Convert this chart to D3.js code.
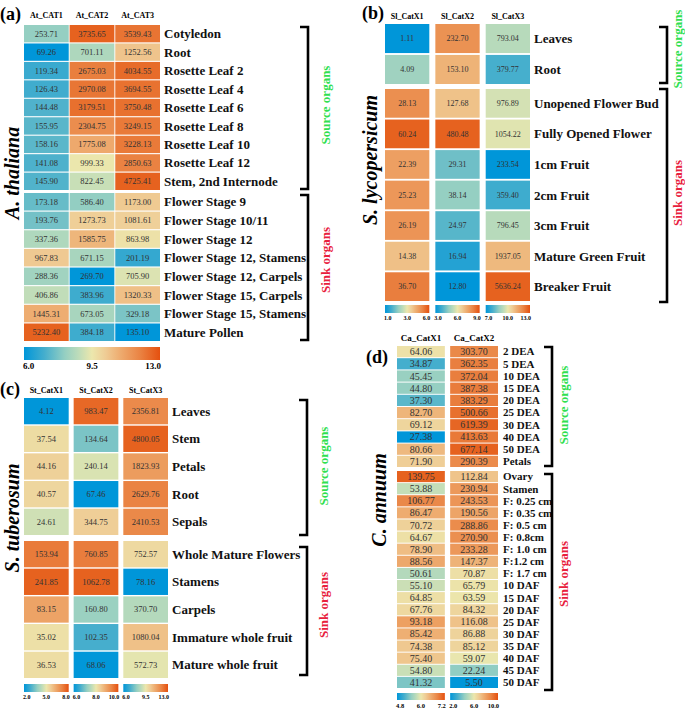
<!DOCTYPE html>
<html><head><meta charset="utf-8">
<script src="https://cdn.jsdelivr.net/npm/d3@7"></script>
<style>body{margin:0;background:#fff}svg{display:block}text{font-family:"Liberation Serif","Times New Roman",serif}</style>
</head><body><svg id="c" width="685" height="708"></svg>
<script>
// ---------- Panel (a) A. thaliana ----------
const A_cols = ["At_CAT1","At_CAT2","At_CAT3"];
const A_source = ["Cotyledon","Root","Rosette Leaf 2","Rosette Leaf 4","Rosette Leaf 6","Rosette Leaf 8","Rosette Leaf 10","Rosette Leaf 12","Stem, 2nd Internode"];
const A_sink = ["Flower Stage 9","Flower Stage 10/11","Flower Stage 12","Flower Stage 12, Stamens","Flower Stage 12, Carpels","Flower Stage 15, Carpels","Flower Stage 15, Stamens","Mature Pollen"];
const A_cat1 = [253.71,69.26,119.34,126.43,144.48,155.95,158.16,141.08,145.90,173.18,193.76,337.36,967.83,288.36,406.86,1445.31,5232.40];
const A_cat2 = [3735.65,701.11,2675.03,2970.08,3179.51,2304.75,1775.08,999.33,822.45,586.40,1273.73,1585.75,671.15,269.70,383.96,673.05,384.18];
const A_cat3 = [3539.43,1252.56,4034.55,3694.55,3750.48,3249.15,3228.13,2850.63,4725.41,1173.00,1081.61,863.98,201.19,705.90,1320.33,329.18,135.10];
const A_ticks = [["6.0","9.5","13.0"]];

// ---------- Panel (b) S. lycopersicum ----------
const B_cols = ["Sl_CatX1","Sl_CatX2","Sl_CatX3"];
const B_source = ["Leaves","Root"];
const B_sink = ["Unopened Flower Bud","Fully Opened Flower","1cm Fruit","2cm Fruit","3cm Fruit","Mature Green Fruit","Breaker Fruit"];
const B_x1 = [1.11,4.09,28.13,60.24,22.39,25.23,26.19,14.38,36.70];
const B_x2 = [232.70,153.10,127.68,480.48,29.31,38.14,24.97,16.94,12.80];
const B_x3 = [793.04,379.77,976.89,1054.22,233.54,359.40,796.45,1937.05,5636.24];
const B_ticks = [["1.0","3.0","6.0"],["3.0","6.0","9.0"],["7.0","10.0","13.0"]];

// ---------- Panel (c) S. tuberosum ----------
const C_cols = ["St_CatX1","St_CatX2","St_CatX3"];
const C_source = ["Leaves","Stem","Petals","Root","Sepals"];
const C_sink = ["Whole Mature Flowers","Stamens","Carpels","Immature whole fruit","Mature whole fruit"];
const C_x1 = [4.12,37.54,44.16,40.57,24.61,153.94,241.85,83.15,35.02,36.53];
const C_x2 = [983.47,134.64,240.14,67.46,344.75,760.85,1062.78,160.80,102.35,68.06];
const C_x3 = [2356.81,4800.05,1823.93,2629.76,2410.53,752.57,78.16,370.70,1080.04,572.73];
const C_ticks = [["2.0","5.0","8.0"],["6.0","8.0","10.0"],["6.0","9.5","13.0"]];

// ---------- Panel (d) C. annuum ----------
const D_cols = ["Ca_CatX1","Ca_CatX2"];
const D_source = ["2 DEA","5 DEA","10 DEA","15 DEA","20 DEA","25 DEA","30 DEA","40 DEA","50 DEA","Petals"];
const D_sink = ["Ovary","Stamen","F: 0.25 cm","F: 0.35 cm","F: 0.5 cm","F: 0.8cm","F: 1.0 cm","F:1.2 cm","F: 1.7 cm","10 DAF","15 DAF","20 DAF","25 DAF","30 DAF","35 DAF","40 DAF","45 DAF","50 DAF"];
const D_x1 = [64.06,34.87,45.45,44.80,37.30,82.70,69.12,27.38,80.66,71.90,139.75,53.88,106.77,86.47,70.72,64.67,78.90,88.56,50.61,55.10,64.85,67.76,93.18,85.42,74.38,75.40,54.80,41.32];
const D_x2 = [303.70,362.35,372.04,387.38,383.29,500.66,619.39,413.63,677.14,290.39,112.84,230.94,243.53,190.56,288.86,270.90,233.28,147.37,70.87,65.79,63.59,84.32,116.08,86.88,85.12,59.07,22.24,5.50];
const D_ticks = [["4.8","6.0","7.2"],["2.0","6.0","10.0"]];

// ---------- colour map ----------
const cPos = [0,0.15,0.3,0.4,0.5,0.6,0.7,0.85,1];
const cCol = ["#0096d9","#45aecd","#95cfc2","#bddcba","#ece7ad","#efcc95","#eeae72","#ea8444","#e6621f"];
const cmap = d3.scaleLinear().domain(cPos).range(cCol).interpolate(d3.interpolateRgb).clamp(true);

const svg = d3.select("#c");
const defs = svg.append("defs");
const grad = defs.append("linearGradient").attr("id","cbar");
cPos.forEach((p,i)=>grad.append("stop").attr("offset",p).attr("stop-color",i===cPos.length-1?"#e5500f":cCol[i]));

function panel(p){
  const g = svg.append("g");
  const rows = p.source.concat(p.sink);
  const x = d3.scaleBand().domain(p.cols).range(p.xr).paddingInner(p.cpad);
  const yS = d3.scaleBand().domain(p.source).range(p.srcY).paddingInner(p.rpad);
  const yK = d3.scaleBand().domain(p.sink).range(p.sinkY).paddingInner(p.rpad);
  const y = (i)=> i < p.source.length ? yS(rows[i]) : yK(rows[i]);
  const bw = (i)=> i < p.source.length ? yS.bandwidth() : yK.bandwidth();

  // letter
  g.append("text").attr("x",p.letter[0]).attr("y",p.letter[1]).attr("font-size",18).attr("font-weight","bold").text(p.letter[2]);
  // headers
  g.selectAll("text.h").data(p.cols).join("text").attr("class","h")
    .attr("x",d=>x(d)+x.bandwidth()/2).attr("y",p.headY).attr("text-anchor","middle")
    .attr("font-size",p.headFs).attr("font-weight","bold").text(d=>d);

  p.values.forEach((vals,ci)=>{
    const lv = vals.map(v=>Math.log2(v));
    const ext = d3.extent(lv);
    const t = d3.scaleLinear().domain(ext).range([0,1]);
    const col = p.cols[ci];
    const cg = g.append("g");
    cg.selectAll("rect").data(vals).join("rect")
      .attr("x",x(col)).attr("width",x.bandwidth())
      .attr("y",(d,i)=>y(i)).attr("height",(d,i)=>bw(i))
      .attr("fill",(d,i)=>cmap(t(lv[i])));
    cg.selectAll("text").data(vals).join("text")
      .attr("x",x(col)+x.bandwidth()/2).attr("y",(d,i)=>y(i)+bw(i)/2)
      .attr("dy","0.35em").attr("text-anchor","middle").attr("font-size",p.valFs).attr("fill","#333")
      .text(d=>d.toFixed(2));
    // colour bars
    const nb = p.ticks.length;
    if (nb === p.cols.length || ci === 0){
      const bx0 = nb === p.cols.length ? x(col) : p.xr[0];
      const bx1 = nb === p.cols.length ? x(col)+x.bandwidth() : p.xr[1];
      g.append("rect").attr("x",bx0).attr("y",p.barY[0]).attr("width",bx1-bx0).attr("height",p.barY[1]-p.barY[0]).attr("fill","url(#cbar)");
      const tk = p.ticks[nb === p.cols.length ? ci : 0];
      const anchors = ["start","middle","end"];
      const xs = [bx0-1,(bx0+bx1)/2,bx1+1];
      tk.forEach((s,k)=>g.append("text").attr("x",xs[k]).attr("y",p.tickY).attr("text-anchor",anchors[k])
        .attr("font-size",p.tickFs).attr("font-weight","bold").text(s));
    }
  });
  // row labels
  g.selectAll("text.r").data(rows).join("text").attr("class","r")
    .attr("x",p.labX).attr("y",(d,i)=>y(i)+bw(i)/2).attr("dy","0.35em")
    .attr("font-size",p.labFs).attr("font-weight","bold").attr("fill","#111").text(d=>d);
  // brackets
  [[p.srcB,"Source organs","#2fe04f",p.srcT],[p.sinkB,"Sink organs","#e8203c",p.sinkT]].forEach(([b,lab,c,ty])=>{
    g.append("path").attr("d",`M${p.brX-p.brT},${b[0]}H${p.brX}V${b[1]}H${p.brX-p.brT}`)
      .attr("fill","none").attr("stroke","#000").attr("stroke-width",2.6);
    g.append("text").attr("transform",`translate(${p.grpX},${ty}) rotate(-90)`).attr("text-anchor","middle")
      .attr("dy","0.35em").attr("font-size",p.grpFs).attr("font-weight","bold").attr("fill",c).text(lab);
  });
  // species
  g.append("text").attr("transform",`translate(${p.sp[0]},${p.sp[1]}) rotate(-90)`).attr("text-anchor","middle")
    .attr("dy","0.35em").attr("font-size",p.spFs).attr("font-weight","bold").attr("font-style","italic").text(p.sp[2]);
}

panel({cols:A_cols,source:A_source,sink:A_sink,values:[A_cat1,A_cat2,A_cat3],ticks:A_ticks,
  xr:[24,160],cpad:0.02,srcY:[25,190],sinkY:[193,341],rpad:0.06,
  letter:[0,20,"(a)"],headY:18,headFs:8,valFs:8.5,labX:164,labFs:13,
  barY:[347,360],tickY:369,tickFs:9,
  brX:308,brT:8,srcB:[27,189],sinkB:[195,340],grpX:325,srcT:105,sinkT:260,grpFs:13,
  sp:[12,173,"A. thaliana"],spFs:20});

panel({cols:B_cols,source:B_source,sink:B_sink,values:[B_x1,B_x2,B_x3],ticks:B_ticks,
  xr:[385,530],cpad:0.12,srcY:[24,84],sinkY:[89,301],rpad:0.06,
  letter:[362,19,"(b)"],headY:19,headFs:8,valFs:8,labX:534,labFs:13,
  barY:[305,313],tickY:320,tickFs:6,
  brX:667,brT:8,srcB:[27,83],sinkB:[89,302],grpX:677,srcT:49,sinkT:193,grpFs:13,
  sp:[370,160,"S. lycopersicum"],spFs:20});

panel({cols:C_cols,source:C_source,sink:C_sink,values:[C_x1,C_x2,C_x3],ticks:C_ticks,
  xr:[24,168],cpad:0.1,srcY:[398,535],sinkY:[541,678],rpad:0.05,
  letter:[0,395,"(c)"],headY:393,headFs:8,valFs:8.5,labX:172,labFs:13,
  barY:[684,692],tickY:699,tickFs:6,
  brX:307,brT:8,srcB:[400,535],sinkB:[547,675],grpX:323,srcT:466,sinkT:605,grpFs:13,
  sp:[12,518,"S. tuberosum"],spFs:20});

panel({cols:D_cols,source:D_source,sink:D_sink,values:[D_x1,D_x2],ticks:D_ticks,
  xr:[397,498],cpad:0.1,srcY:[346,467],sinkY:[471,688],rpad:0.08,
  letter:[366,363,"(d)"],headY:341,headFs:9,valFs:10,labX:503,labFs:11,
  barY:[693,700],tickY:708,tickFs:6.5,
  brX:552,brT:8,srcB:[347,466],sinkB:[474,690],grpX:563,srcT:405,sinkT:574,grpFs:13,
  sp:[379,500,"C. annuum"],spFs:20});
</script></body></html>
